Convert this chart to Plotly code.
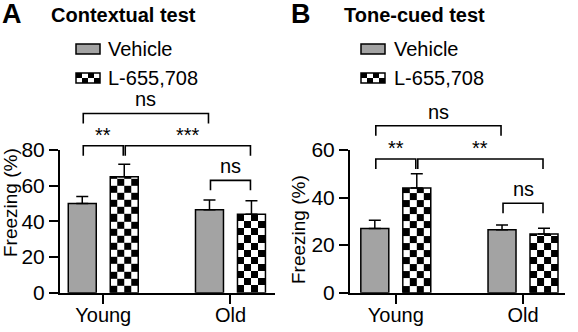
import plotly.graph_objects as go

W, H = 578, 332

# ---------------- data ----------------
categories = ["Young", "Old"]
series_names = ["Vehicle", "L-655,708"]

# Panel A: Contextual test (Freezing %)
ctx_vehicle = [50.0, 46.5]
ctx_vehicle_err = [4.0, 5.5]
ctx_drug = [65.0, 44.0]
ctx_drug_err = [7.0, 7.5]

# Panel B: Tone-cued test (Freezing %)
tone_vehicle = [27.0, 26.5]
tone_vehicle_err = [3.5, 2.0]
tone_drug = [44.0, 24.7]
tone_drug_err = [6.0, 2.4]

y_ticks_A = [0, 20, 40, 60, 80]
y_ticks_B = [0, 20, 40, 60]

# significance brackets: (cat_from, series_from, cat_to, series_to, height, label)
ctx_sig = [
    (0, 0, 1, 0, 100.5, "ns"),
    (0, 0, 0, 1, 82.4, "**"),
    (0, 1, 1, 1, 82.4, "***"),
    (1, 0, 1, 1, 63.0, "ns"),
]
tone_sig = [
    (0, 0, 1, 0, 70.2, "ns"),
    (0, 0, 0, 1, 56.2, "**"),
    (0, 1, 1, 1, 56.2, "**"),
    (1, 0, 1, 1, 37.6, "ns"),
]

# ---------------- style ----------------
FONT = "Arial, Liberation Sans, Helvetica, sans-serif"
GREY = "#a3a3a3"
BW = 0.22          # bar width (x units)
VEH_OFF = -0.275   # left edge offset of vehicle bar
DRUG_OFF = 0.055   # left edge offset of drug bar
X_PX_PER_UNIT = 127.2
Y_BOTTOM_PX, Y_TOP_PX = 292.7, 150.0


def px2x(p):
    return p / W


def py2y(p):
    return 1 - p / H


DOM0, DOM1 = py2y(Y_BOTTOM_PX), py2y(Y_TOP_PX)

panels = [
    dict(xa="x", ya="y", ya2="y3", xname="xaxis", yname="yaxis", y2name="yaxis3",
         xdom=[px2x(60), px2x(275)], xr=[-0.34, 1.35], yr=[0, 80], yr_ext=110,
         yticks=y_ticks_A,
         veh=ctx_vehicle, veh_err=ctx_vehicle_err, drug=ctx_drug, drug_err=ctx_drug_err,
         sig=ctx_sig, cell=4.0),
    dict(xa="x2", ya="y2", ya2="y4", xname="xaxis2", yname="yaxis2", y2name="yaxis4",
         xdom=[px2x(350), px2x(565)], xr=[-0.36, 1.33], yr=[0, 60], yr_ext=80,
         yticks=y_ticks_B,
         veh=tone_vehicle, veh_err=tone_vehicle_err, drug=tone_drug, drug_err=tone_drug_err,
         sig=tone_sig, cell=3.0),
]

fig = go.Figure()
xpos = list(range(len(categories)))

for p in panels:
    units_per_px = (p["yr"][1] - p["yr"][0]) / (Y_BOTTOM_PX - Y_TOP_PX)
    # checkerboard fill for drug bars (heatmap under the bar outline)
    for i, v in enumerate(p["drug"]):
        left = xpos[i] + DRUG_OFF
        xs = [left + k * BW / 4 for k in range(5)]
        ys = []
        yy = 0.0
        while yy < v - 1e-9:
            ys.append(yy)
            yy += p["cell"]
        ys.append(v)
        z = [[(r + c + 1) % 2 for c in range(4)] for r in range(len(ys) - 1)]
        fig.add_trace(go.Heatmap(
            x=xs, y=ys, z=z, zmin=0, zmax=1,
            colorscale=[[0, "white"], [1, "black"]], showscale=False,
            hoverinfo="skip", xaxis=p["xa"], yaxis=p["ya"]))

    fig.add_trace(go.Bar(
        x=xpos, y=p["veh"], width=BW, offset=VEH_OFF, name=series_names[0],
        marker=dict(color=GREY, line=dict(color="black", width=1.5)),
        error_y=dict(type="data", array=p["veh_err"], arrayminus=[0] * len(xpos),
                     symmetric=False, color="black", thickness=1.5, width=6),
        xaxis=p["xa"], yaxis=p["ya"], showlegend=False))
    fig.add_trace(go.Bar(
        x=xpos, y=p["drug"], width=BW, offset=DRUG_OFF, name=series_names[1],
        marker=dict(color="rgba(0,0,0,0)", line=dict(color="black", width=1.5)),
        error_y=dict(type="data", array=p["drug_err"], arrayminus=[0] * len(xpos),
                     symmetric=False, color="black", thickness=1.5, width=6),
        xaxis=p["xa"], yaxis=p["ya"], showlegend=False))

    # significance brackets (on an invisible axis with the same scale, extended upward)
    leg = 10 * units_per_px
    gap = 1.0 / X_PX_PER_UNIT
    for (c1, s1, c2, s2, h, lab) in p["sig"]:
        off1 = VEH_OFF if s1 == 0 else DRUG_OFF
        off2 = VEH_OFF if s2 == 0 else DRUG_OFF
        xa1 = xpos[c1] + off1 + BW / 2 + gap
        xa2 = xpos[c2] + off2 + BW / 2 - gap
        fig.add_trace(go.Scatter(
            x=[xa1, xa1, xa2, xa2], y=[h - leg, h, h, h - leg], mode="lines",
            line=dict(color="black", width=1.6), cliponaxis=False,
            hoverinfo="skip", showlegend=False, xaxis=p["xa"], yaxis=p["ya2"]))
        fig.add_annotation(
            x=(xa1 + xa2) / 2, y=h, xref=p["xa"], yref=p["ya2"], text=lab,
            showarrow=False, yanchor="bottom", yshift=1 if lab == "ns" else -2,
            font=dict(family=FONT, size=20, color="black"))

    ext_top = DOM0 + (DOM1 - DOM0) * p["yr_ext"] / (p["yr"][1] - p["yr"][0])
    fig.update_layout(**{
        p["xname"]: dict(
            domain=p["xdom"], range=p["xr"], tickvals=xpos, ticktext=categories,
            showline=True, linecolor="black", linewidth=2, ticks="outside",
            ticklen=9, tickwidth=2, tickcolor="black", showgrid=False, zeroline=False,
            tickfont=dict(family=FONT, size=20, color="black"), automargin=False,
            ticklabelstandoff=-6, anchor=p["ya"]),
        p["yname"]: dict(
            domain=[DOM0, DOM1], range=p["yr"],
            tickvals=p["yticks"], showline=True, linecolor="black", linewidth=2,
            ticks="outside", ticklen=9, tickwidth=2, tickcolor="black",
            showgrid=False, zeroline=False, automargin=False,
            tickfont=dict(family=FONT, size=21, color="black"), anchor=p["xa"]),
        p["y2name"]: dict(
            domain=[DOM0, ext_top], range=[p["yr"][0], p["yr_ext"]], visible=False,
            showgrid=False, zeroline=False, automargin=False, anchor=p["xa"]),
    })

# ---------------- titles, axis titles, legends ----------------
texts = [
    ("A", 0, 14, 27, True, "left"),
    ("Contextual test", 49, 15, 20, True, "left"),
    ("B", 289, 14, 27, True, "left"),
    ("Tone-cued test", 342, 15, 20, True, "left"),
]
for t, x, y, s, bold, anc in texts:
    fig.add_annotation(
        x=px2x(x), y=py2y(y), xref="paper", yref="paper", showarrow=False,
        text=f"<b>{t}</b>" if bold else t, xanchor=anc, yanchor="middle",
        font=dict(family=FONT, size=s, color="black"))

for x, y in [(10, 203), (299, 230)]:
    fig.add_annotation(
        x=px2x(x), y=py2y(y), xref="paper", yref="paper", showarrow=False,
        text="Freezing (%)", textangle=-90, xanchor="center", yanchor="middle",
        font=dict(family=FONT, size=19, color="black"))

shapes = []
for lx, tx in [(76, 106), (361, 392)]:
    # vehicle swatch
    shapes.append(dict(type="rect", xref="paper", yref="paper",
                       x0=px2x(lx), x1=px2x(lx + 24), y0=py2y(54), y1=py2y(44),
                       fillcolor=GREY, line=dict(color="black", width=1.5)))
    fig.add_annotation(x=px2x(tx), y=py2y(49), xref="paper", yref="paper",
                       showarrow=False, text=series_names[0], xanchor="left",
                       yanchor="middle", font=dict(family=FONT, size=20, color="black"))
    # drug checker swatch
    shapes.append(dict(type="rect", xref="paper", yref="paper",
                       x0=px2x(lx), x1=px2x(lx + 24), y0=py2y(83), y1=py2y(73),
                       fillcolor="white", line=dict(width=0)))
    for r in range(2):
        for c in range(4):
            if (r + c) % 2 == 0:
                shapes.append(dict(type="rect", xref="paper", yref="paper",
                                   x0=px2x(lx + c * 6), x1=px2x(lx + c * 6 + 6),
                                   y0=py2y(73 + r * 5 + 5), y1=py2y(73 + r * 5),
                                   fillcolor="black", line=dict(width=0)))
    shapes.append(dict(type="rect", xref="paper", yref="paper",
                       x0=px2x(lx), x1=px2x(lx + 24), y0=py2y(83), y1=py2y(73),
                       fillcolor="rgba(0,0,0,0)", line=dict(color="black", width=1.5)))
    fig.add_annotation(x=px2x(tx), y=py2y(78), xref="paper", yref="paper",
                       showarrow=False, text=series_names[1], xanchor="left",
                       yanchor="middle", font=dict(family=FONT, size=20, color="black"))

fig.update_layout(
    shapes=shapes, width=W, height=H, barmode="overlay",
    margin=dict(l=0, r=0, t=0, b=0, pad=0, autoexpand=False),
    paper_bgcolor="white", plot_bgcolor="rgba(0,0,0,0)", showlegend=False,
    font=dict(family=FONT, color="black"),
)

fig.write_html("out.html", include_plotlyjs=True, config={"displayModeBar": False},
               post_script="document.body.style.margin='0';")
